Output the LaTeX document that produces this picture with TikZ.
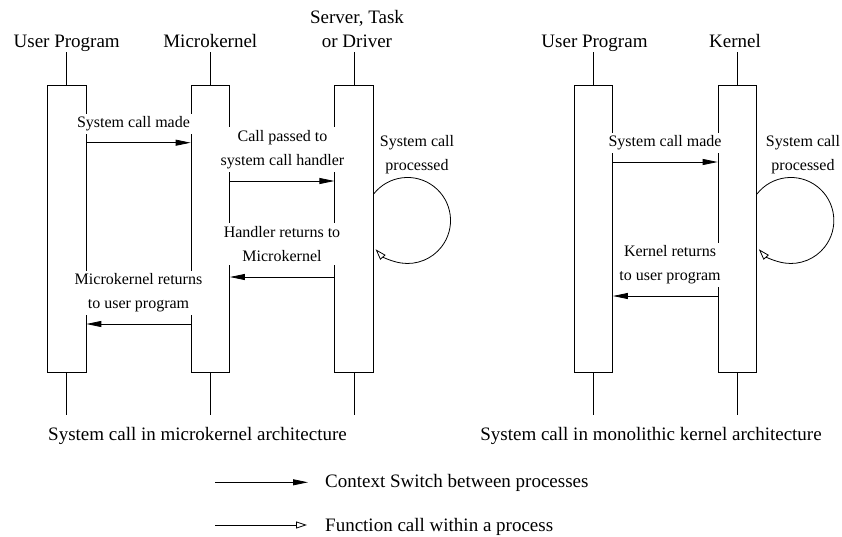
\documentclass[tikz,border=0pt]{standalone}
\usepackage{fontspec}
\setmainfont{Liberation Serif}
\usetikzlibrary{arrows.meta}
\begin{document}
\begin{tikzpicture}[x=1pt,y=-1pt,
  proc/.style={draw, rectangle, minimum width=38.5pt, minimum height=287pt, inner sep=0pt, line width=0.8pt},
  ttl/.style={font=\fontsize{19}{24}\selectfont, align=center, inner sep=0pt, anchor=base},
  lbl/.style={font=\fontsize{16}{24}\selectfont, align=center, fill=white, inner sep=3pt},
  cs/.style={-{Triangle[length=15pt,width=6pt]}, line width=0.8pt},
  fc/.style={-{Triangle[open,length=11pt,width=7pt]}, line width=0.8pt},
  life/.style={line width=0.8pt}]
\useasboundingbox (0,0) rectangle (842,536);

% ---------- left: microkernel ----------
\node[proc] (up1) at (66.7,228.5) {};
\node[proc] (mk)  at (210.3,228.5) {};
\node[proc] (srv) at (354,228.5) {};
\node[ttl] (tup1) at (66.7,47) {User Program};
\node[ttl] (tmk)  at (210.3,47) {Microkernel};
\node[ttl] (tsrv) at (357,47) {Server, Task\\or Driver};

\foreach \n in {up1,mk,srv}{
  \draw[life] (\n.north) -- ++(0,-33);
  \draw[life] (\n.south) -- ++(0,43);
}

\node[lbl] (l1) at (133.5,124) {System call made};
\node[lbl] (l2) at (282.5,149.5) {Call passed to\\system call handler};
\node[lbl] (l3) at (282,244) {Handler returns to\\Microkernel};
\node[lbl] (l4) at (138.5,293) {Microkernel returns\\to user program};
\node[font=\fontsize{16}{24}\selectfont, align=center, inner sep=3pt] (l5) at (417,155) {System call\\processed};

\draw[cs] (up1.east |- 0,142.7) -- (mk.west |- 0,142.7);
\draw[cs] (mk.east |- 0,181) -- (srv.west |- 0,181);
\draw[cs] (srv.west |- 0,277) -- (mk.east |- 0,277);
\draw[cs] (mk.west |- 0,324) -- (up1.east |- 0,324);
\draw[fc] ([yshift=34.5pt]srv.east) arc[start angle=142, end angle=-138, radius=43pt];

\node[font=\fontsize{19}{24}\selectfont, inner sep=0pt, anchor=base] (c1) at (197.5,440) {System call in microkernel architecture};

% ---------- right: monolithic ----------
\node[proc] (up2) at (593.3,228.5) {};
\node[proc] (kn)  at (737.3,228.5) {};
\node[ttl] (tup2) at (594.5,47) {User Program};
\node[ttl] (tkn)  at (735,47) {Kernel};
\foreach \n in {up2,kn}{
  \draw[life] (\n.north) -- ++(0,-33);
  \draw[life] (\n.south) -- ++(0,43);
}
\node[lbl] (r1) at (665,143) {System call made};
\node[lbl] (r2) at (670,265) {Kernel returns\\to user program};
\node[font=\fontsize{16}{24}\selectfont, align=center, inner sep=3pt] (r3) at (803,155) {System call\\processed};

\draw[cs] (up2.east |- 0,162) -- (kn.west |- 0,162);
\draw[cs] (kn.west |- 0,296) -- (up2.east |- 0,296);
\draw[fc] ([yshift=34.5pt]kn.east) arc[start angle=142, end angle=-138, radius=43pt];

\node[font=\fontsize{19}{24}\selectfont, inner sep=0pt, anchor=base] (c2) at (651,440) {System call in monolithic kernel architecture};

% ---------- legend ----------
\coordinate (a1) at (215,482.3);
\coordinate (b1) at (308,482.3);
\coordinate (a2) at (215,525);
\coordinate (b2) at (307,525);
\draw[cs] (a1) -- (b1);
\draw[fc] (a2) -- (b2);
\node[font=\fontsize{19}{24}\selectfont, inner sep=0pt, anchor=base west] (t1) at (325,487) {Context Switch between processes};
\node[font=\fontsize{19}{24}\selectfont, inner sep=0pt, anchor=base west] (t2) at (325,531) {Function call within a process};
\end{tikzpicture}
\end{document}
